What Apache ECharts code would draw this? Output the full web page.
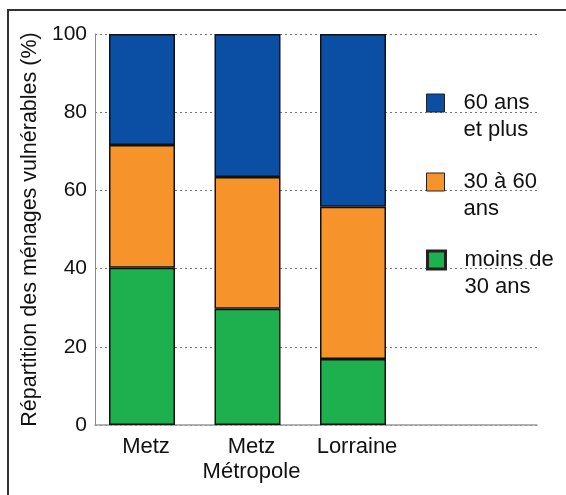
<!DOCTYPE html>
<html>
<head>
<meta charset="utf-8">
<script src="https://cdn.jsdelivr.net/npm/echarts@6/dist/echarts.min.js"></script>
<style>html,body{margin:0;padding:0;background:#fff}#c{width:566px;height:495px}</style>
</head>
<body>
<div id="c"></div>
<script>
var categories = ['Metz', 'Metz\nMétropole', 'Lorraine'];
var seriesNames = ['60 ans\net plus', '30 à 60\nans', 'moins de\n30 ans'];
var under30 = [40.2, 29.7, 16.9];
var from30to60 = [31.4, 33.7, 38.9];
var over60 = [28.4, 36.6, 44.2];
var yTicks = [0, 20, 40, 60, 80, 100];
var yTitle = 'Répartition des ménages vulnérables (%)';

var FONT = '"Liberation Sans", Arial, sans-serif';
var colors = {blue: '#0a4fa3', orange: '#f7932b', green: '#1eb04f'};

var chart = echarts.init(document.getElementById('c'), null, {renderer: 'canvas'});

function legendFor(name, top, border) {
  return {
    data: [name], orient: 'vertical', left: 426, top: top, padding: 0,
    itemWidth: 18, itemHeight: 18, icon: 'rect',
    itemStyle: {borderColor: '#222', borderWidth: border},
    formatter: function (n) {
      return '{t| }\n' + n.split('\n').map(function (s) { return '{t|' + s + '}'; }).join('\n');
    },
    textStyle: {
      fontFamily: FONT, fontSize: 22, color: '#111', lineHeight: 27,
      rich: {t: {fontFamily: FONT, fontSize: 22, color: '#111', lineHeight: 27, padding: [0, 0, 0, 14]}}
    }
  };
}

var option = {
  animation: false,
  textStyle: {fontFamily: FONT},
  graphic: [{
    type: 'rect', shape: {x: 8, y: 10, width: 700, height: 700},
    style: {fill: 'none', stroke: '#333', lineWidth: 2}, silent: true
  }],
  legend: [
    legendFor(seriesNames[0], 62.5, 1),
    legendFor(seriesNames[1], 141.5, 1),
    legendFor(seriesNames[2], 219.5, 3)
  ],
  grid: [
    {left: 95, top: 34, width: 442, height: 391},
    {left: 89.25, top: 34, width: 316.5, height: 391}
  ],
  xAxis: [
    {gridIndex: 0, type: 'category', data: [''], axisLine: {lineStyle: {color: '#999', width: 1.5}},
     axisTick: {show: false}, axisLabel: {show: false}},
    {gridIndex: 1, type: 'category', data: categories, axisLine: {show: false}, axisTick: {show: false},
     axisLabel: {interval: 0, fontFamily: FONT, fontSize: 22, color: '#111', lineHeight: 25, margin: 9,
                 padding: [0, 0, 0, 8]}}
  ],
  yAxis: [
    {gridIndex: 0, type: 'value', min: yTicks[0], max: yTicks[yTicks.length - 1], interval: 20,
     axisLine: {show: true, lineStyle: {color: '#888', width: 1}}, axisTick: {show: false},
     splitLine: {show: true, lineStyle: {color: '#777', type: [2, 3], width: 1}},
     axisLabel: {fontFamily: FONT, fontSize: 21, color: '#111', margin: 8},
     name: yTitle, nameLocation: 'middle', nameGap: 47, nameRotate: 90,
     nameTextStyle: {fontFamily: FONT, fontSize: 21.5, color: '#111'}},
    {gridIndex: 1, type: 'value', min: 0, max: 100, show: false, splitLine: {show: false}}
  ],
  series: [
    {name: seriesNames[2], type: 'bar', stack: 's', xAxisIndex: 1, yAxisIndex: 1, barWidth: 66, data: under30,
     itemStyle: {color: colors.green, borderColor: '#111', borderWidth: 1.5}},
    {name: seriesNames[1], type: 'bar', stack: 's', xAxisIndex: 1, yAxisIndex: 1, barWidth: 66, data: from30to60,
     itemStyle: {color: colors.orange, borderColor: '#111', borderWidth: 1.5}},
    {name: seriesNames[0], type: 'bar', stack: 's', xAxisIndex: 1, yAxisIndex: 1, barWidth: 66, data: over60,
     itemStyle: {color: colors.blue, borderColor: '#111', borderWidth: 1.5}}
  ]
};
chart.setOption(option);
</script>
</body>
</html>
